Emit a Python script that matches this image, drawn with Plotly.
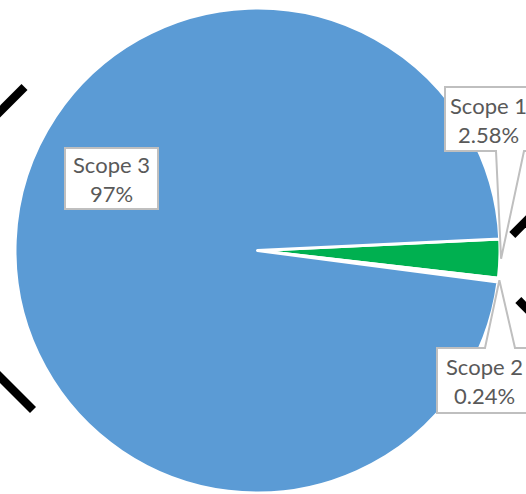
import math
import plotly.graph_objects as go

# ---- data ----
labels = ["Scope 1", "Scope 2", "Scope 3"]
values = [2.58, 0.24, 97.18]
pct_text = ["2.58%", "0.24%", "97%"]
colors = ["#00B050", "#FFFFFF", "#5B9BD5"]

W, H = 526, 494
CX, CY, R = 257.5, 250.5, 242.5          # pie centre / radius in px
START = 87.3                              # rotation (deg clockwise from 12 o'clock)

def px(x):
    return x / W

def py(y):
    return 1 - y / H

fig = go.Figure(go.Pie(
    labels=labels, values=values, sort=False, direction="clockwise",
    rotation=START, textinfo="none", hoverinfo="label+percent",
    marker=dict(colors=colors, line=dict(color="#FFFFFF", width=3)),
    domain=dict(x=[px(CX - R), px(CX + R)], y=[py(CY + R), py(CY - R)]),
    showlegend=False,
))

# slice mid-angles from data -> callout tips
total = sum(values)
cum = 0
tips = []
for v in values:
    mid = START + (cum + v / 2) / total * 360
    cum += v
    a = math.radians(mid)
    tips.append((CX + R * 1.005 * math.sin(a), CY - R * 1.005 * math.cos(a)))

shapes = []
GRAY = "#BFBFBF"

def path(points):
    s = "M " + " L ".join(f"{px(x):.5f},{py(y):.5f}" for x, y in points) + " Z"
    return dict(type="path", path=s, xref="paper", yref="paper",
                fillcolor="white", line=dict(color=GRAY, width=2), layer="above")

# Scope 1 callout (pointer from bottom)
tx, ty = tips[0]
shapes.append(path([(445, 87), (536, 87), (536, 151), (524, 151), (tx, ty), (496, 151), (445, 151)]))
# Scope 2 callout (pointer from top)
tx, ty = tips[1]
shapes.append(path([(437, 348), (485, 348), (tx, ty), (515, 348), (531, 348), (531, 413), (437, 413)]))
# Scope 3 box
shapes.append(path([(65, 148), (158, 148), (158, 209), (65, 209)]))

# decorative black strokes at edges
for (x0, y0, x1, y1) in [(-12, 123.5, 24.5, 87), (-12, 365, 33, 410),
                         (512.3, 235, 545, 202.3), (518.3, 300, 545, 326.7)]:
    shapes.append(dict(type="line", xref="paper", yref="paper",
                       x0=px(x0), y0=py(y0), x1=px(x1), y1=py(y1),
                       line=dict(color="black", width=8.5), layer="above"))

ann_pos = [(488, 119.5), (484, 381), (111.5, 178.5)]
annotations = []
for lab, t, (ax, ay) in zip(labels, pct_text, ann_pos):
    annotations.append(dict(
        text=f"{lab}<br>{t}", x=px(ax), y=py(ay), xref="paper", yref="paper",
        showarrow=False, xanchor="center", yanchor="middle",
        font=dict(family="Lato", size=22, color="#595959"), align="center"))

fig.update_layout(
    width=W, height=H, margin=dict(l=0, r=0, t=0, b=0),
    paper_bgcolor="white", plot_bgcolor="white",
    shapes=shapes, annotations=annotations,
)

fig.write_html("out.html")
